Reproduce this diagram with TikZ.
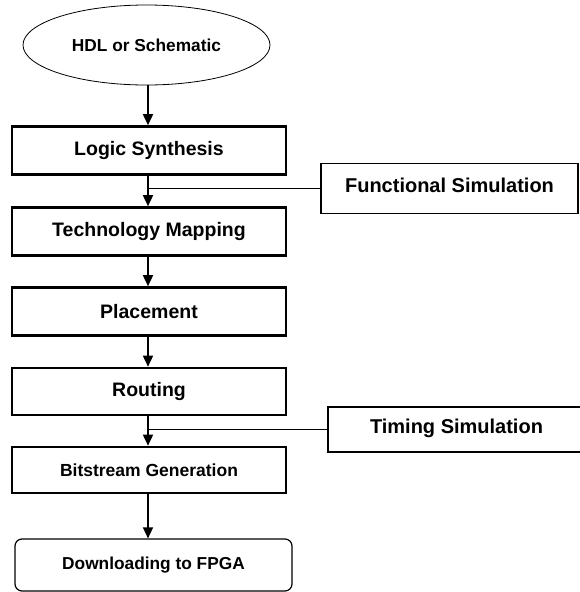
\documentclass[tikz,border=0pt]{standalone}
\usepackage{fontspec}
\setmainfont{Liberation Sans}
\usetikzlibrary{arrows.meta,shapes.geometric}
\begin{document}
\begin{tikzpicture}[x=1pt,y=-1pt,
  stagebox/.style={draw,line width=2.6pt,rectangle,minimum width=274pt,minimum height=48pt,inner sep=0pt,font=\bfseries\fontsize{19.5}{22}\selectfont},
  simbox/.style={draw,line width=1.3pt,rectangle,minimum width=257pt,minimum height=50pt,inner sep=0pt,font=\bfseries\fontsize{20}{22}\selectfont},
  flow/.style={line width=1.6pt,-{Triangle[width=10pt,length=11pt]}},
  tap/.style={line width=1pt}]
\useasboundingbox (0,0) rectangle (580,592);
\node[draw,ellipse,line width=0.8pt,minimum width=247pt,minimum height=80pt,inner sep=0pt,font=\bfseries\fontsize{17.3}{20}\selectfont] (hdl) at (146.5,45) {HDL or Schematic};
\node[stagebox] (ls) at (149,150.5) {Logic Synthesis};
\node[stagebox] (tm) at (149,231.5) {Technology Mapping};
\node[stagebox] (pl) at (149,311.5) {Placement};
\node[stagebox,minimum height=47pt] (ro) at (149,391.5) {Routing};
\node[stagebox,minimum height=46pt,font=\bfseries\fontsize{17.5}{20}\selectfont] (bg) at (149,470) {\raisebox{-1pt}{Bitstream Generation}};
\node[draw,rectangle,rounded corners=7pt,line width=1.2pt,minimum width=277pt,minimum height=52pt,inner sep=0pt,font=\bfseries\fontsize{17.3}{20}\selectfont] (dl) at (153.5,565) {\raisebox{4pt}{Downloading to FPGA}};
\node[simbox] (fs) at (449.5,188.5) {\raisebox{7pt}{Functional Simulation}};
\node[simbox,minimum height=45pt] (ts) at (456.5,429.5) {\raisebox{6pt}{Timing Simulation}};
\coordinate (x) at (148,0);
\draw[flow] (x |- hdl.south) -- (x |- ls.north);
\draw[flow] (x |- ls.south) -- (x |- tm.north);
\draw[flow] (x |- tm.south) -- (x |- pl.north);
\draw[flow] (x |- pl.south) -- (x |- ro.north);
\draw[flow] (x |- ro.south) -- (x |- bg.north);
\draw[flow] (x |- bg.south) -- (x |- dl.north);
\draw[tap] (fs.west) -- (x |- fs.west);
\draw[tap] (ts.west) -- (x |- ts.west);
\end{tikzpicture}
\end{document}
